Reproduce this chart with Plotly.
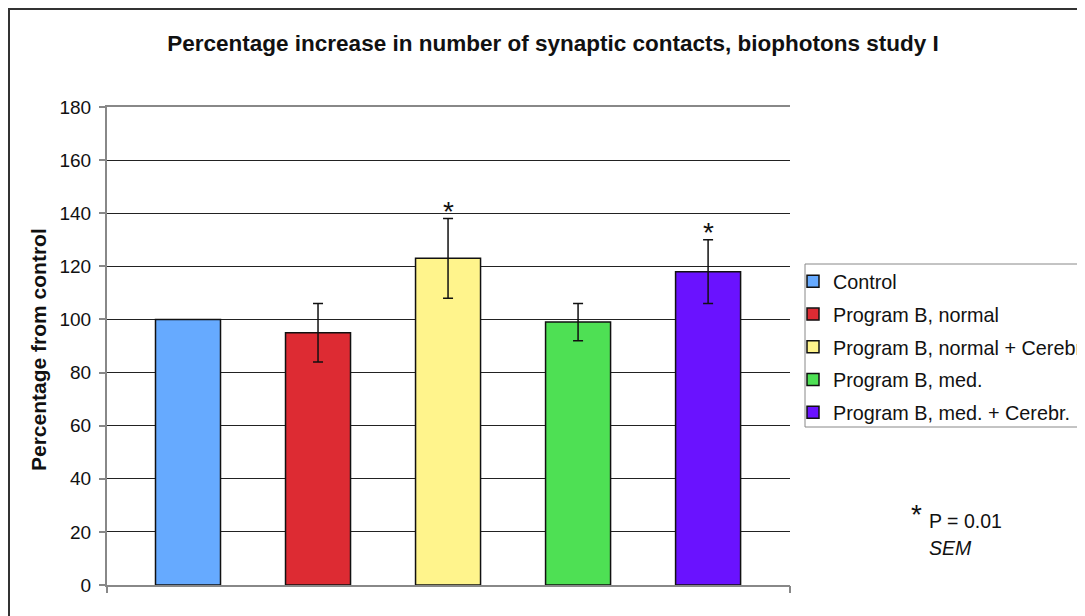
import plotly.graph_objects as go

# ---- data ----
series = ["Control", "Program B, normal", "Program B, normal + Cerebr.",
          "Program B, med.", "Program B, med. + Cerebr."]
values = [100, 95, 123, 99, 118]
sem = [0, 11, 15, 7, 12]
significant = [False, False, True, False, True]
colors = ["#66AAFF", "#DD2B33", "#FFF48C", "#4EE054", "#6A12FF"]
y_ticks = [0, 20, 40, 60, 80, 100, 120, 140, 160, 180]

title = "Percentage increase in number of synaptic contacts, biophotons study I"
y_title = "Percentage from control"
FONT = "Arial, Liberation Sans, sans-serif"

# page has an 8px body margin: figure origin sits at (8, 8) of the window
OFF = 8
W, H = 1085 - OFF, 616 - OFF
L, R, T, B = 107, 790, 107, 585  # plot area in window px

def px_x(px):
    return (px - L) / (R - L)

def px_y(py):
    return (B - py) / (B - T)

fig = go.Figure()
for i, name in enumerate(series):
    fig.add_trace(go.Bar(
        x=[name], y=[values[i]], name=name, legendgroup=name,
        width=0.5,
        marker=dict(color=colors[i], line=dict(color="#111111", width=1.5)),
        error_y=dict(type="data", array=[sem[i]], visible=sem[i] > 0,
                     color="#111111", thickness=1.5, width=5),
    ))

# invisible trace to create boundary tick axis
fig.add_trace(go.Scatter(x=[0, 1], y=[None, None], xaxis="x2", yaxis="y",
                         showlegend=False, hoverinfo="skip"))

annotations = []
for i, name in enumerate(series):
    if significant[i]:
        annotations.append(dict(x=name, y=values[i] + sem[i], xref="x", yref="y",
                                text="*", showarrow=False, yanchor="bottom",
                                yshift=-10, font=dict(family=FONT, size=28, color="#111111")))

annotations += [
    dict(x=px_x(38), y=px_y(350), xref="paper", yref="paper", text="<b>" + y_title + "</b>",
         textangle=-90, showarrow=False, xanchor="center", yanchor="middle",
         font=dict(family=FONT, size=21, color="#111111")),
    dict(x=px_x(916), y=px_y(514), xref="paper", yref="paper", text="*",
         showarrow=False, xanchor="center", yanchor="middle",
         font=dict(family=FONT, size=28, color="#111111")),
    dict(x=px_x(927), y=px_y(521), xref="paper", yref="paper", text="P = 0.01",
         showarrow=False, xanchor="left", yanchor="middle",
         font=dict(family=FONT, size=19.5, color="#111111")),
    dict(x=px_x(927), y=px_y(548), xref="paper", yref="paper", text="<i>SEM</i>",
         showarrow=False, xanchor="left", yanchor="middle",
         font=dict(family=FONT, size=19.5, color="#111111")),
]

fig.update_layout(
    width=W, height=H,
    margin=dict(l=L - OFF, r=W - (R - OFF), t=T - OFF, b=H - (B - OFF),
                autoexpand=False, pad=0),
    paper_bgcolor="white", plot_bgcolor="white",
    barmode="overlay",
    title=dict(text="<b>" + title + "</b>", x=(553 - OFF) / W, xref="container",
               y=1 - (43 - OFF) / H, yref="container",
               xanchor="center", yanchor="middle",
               font=dict(family=FONT, size=22.5, color="#111111")),
    font=dict(family=FONT, color="#111111"),
    showlegend=True,
    legend=dict(x=px_x(805 - 12), y=px_y(262), xanchor="left", yanchor="top",
                borderwidth=0, bgcolor="rgba(0,0,0,0)",
                font=dict(family=FONT, size=19.8, color="#111111"),
                tracegroupgap=4, traceorder="grouped"),
    xaxis=dict(type="category", categoryorder="array", categoryarray=series,
               range=[-0.623, 4.63], showticklabels=False, ticks="",
               showline=True, linecolor="#888888", linewidth=2, mirror=True,
               showgrid=False, zeroline=False, fixedrange=True),
    xaxis2=dict(overlaying="x", anchor="y", side="bottom", range=[0, 1],
                tickvals=[0, 1], ticks="outside", ticklen=7, tickcolor="#888888",
                tickwidth=2, showticklabels=False, showgrid=False,
                zeroline=False, showline=False),
    yaxis=dict(range=[0, 180], tickvals=y_ticks, ticks="outside", ticklen=6,
               tickcolor="#888888", tickwidth=1.5,
               showline=True, linecolor="#888888", linewidth=2,
               showgrid=True, gridcolor="#222222", gridwidth=1,
               zeroline=False, ticklabelstandoff=4,
               tickfont=dict(family=FONT, size=19, color="#111111")),
    annotations=annotations,
    shapes=[
        dict(type="rect", xref="paper", yref="paper",
             x0=px_x(OFF + 1), x1=1.6, y0=-0.3, y1=px_y(OFF + 1),
             line=dict(color="#333333", width=2), layer="below"),
        dict(type="rect", xref="paper", yref="paper",
             x0=px_x(805), x1=1.6, y0=px_y(427), y1=px_y(264),
             line=dict(color="#888888", width=1), fillcolor="white", layer="below"),
    ],
)

fig.write_html("out.html")
